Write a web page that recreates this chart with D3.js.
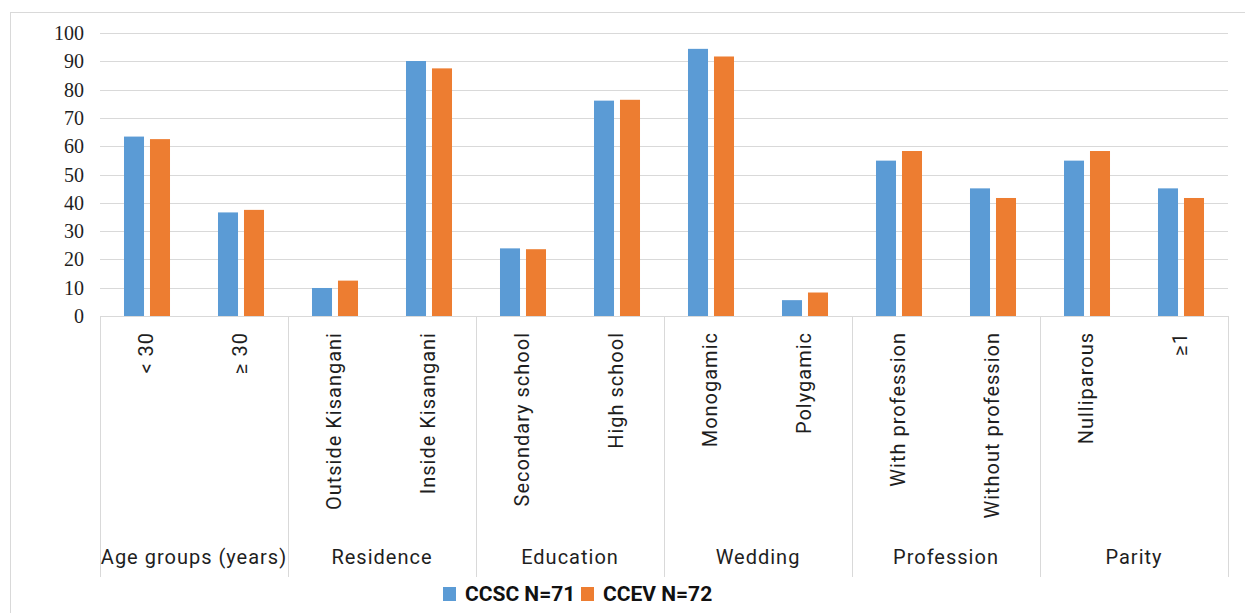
<!DOCTYPE html>
<html>
<head>
<meta charset="utf-8">
<script src="https://cdn.jsdelivr.net/npm/d3@7"></script>
<style>
  html, body { margin: 0; padding: 0; background: #fff; }
  svg { display: block; }
</style>
</head>
<body>
<svg id="chart" width="1245" height="613"></svg>
<script>
// Groups and their sub-categories (two per group)
const groups = ["Age groups (years)", "Residence", "Education", "Wedding", "Profession", "Parity"];
const categories = ["< 30", "\u2265 30", "Outside Kisangani", "Inside Kisangani",
  "Secondary school", "High school", "Monogamic", "Polygamic",
  "With profession", "Without profession", "Nulliparous", "\u22651"];
const seriesNames = ["CCSC N=71", "CCEV N=72"];
// Percentages per category
const ccsc = [63.4, 36.6, 9.9, 90.1, 23.9, 76.1, 94.4, 5.6, 54.9, 45.1, 54.9, 45.1];
const ccev = [62.5, 37.5, 12.5, 87.5, 23.6, 76.4, 91.7, 8.3, 58.3, 41.7, 58.3, 41.7];
const yTicks = [0, 10, 20, 30, 40, 50, 60, 70, 80, 90, 100];
const colors = ["#5B9BD5", "#ED7D31"];

const svg = d3.select("#chart");
const plotLeft = 100, plotRight = 1228, plotTop = 33, plotBase = 316, axisBottom = 577;

// Outer chart frame
svg.append("rect")
  .attr("x", 10.5).attr("y", 12.5)
  .attr("width", 1250).attr("height", 650)
  .attr("fill", "none").attr("stroke", "#d9d9d9").attr("stroke-width", 1);

const y = d3.scaleLinear().domain([0, 100]).range([plotBase, plotTop]);
const x0 = d3.scaleBand().domain(categories).range([plotLeft, plotRight]).padding(0);
const x1 = d3.scaleBand().domain(seriesNames).range([0, x0.bandwidth()])
  .paddingInner(0.23).paddingOuter(0.923);
const xg = d3.scaleBand().domain(groups).range([plotLeft, plotRight]).padding(0);

// Horizontal gridlines
svg.append("g").selectAll("line").data(yTicks.filter(d => d > 0)).join("line")
  .attr("x1", plotLeft).attr("x2", plotRight)
  .attr("y1", d => Math.round(y(d)) + 0.5).attr("y2", d => Math.round(y(d)) + 0.5)
  .attr("stroke", "#d9d9d9").attr("stroke-width", 1);

// Y tick labels
svg.append("g").selectAll("text").data(yTicks).join("text")
  .attr("x", 84).attr("y", d => y(d))
  .attr("dy", "0.35em")
  .attr("text-anchor", "end")
  .attr("font-family", "'Liberation Serif', 'Times New Roman', serif")
  .attr("font-size", 20)
  .attr("fill", "#1e1e1e")
  .text(d => d);

// Bars
const rows = categories.map((c, i) => ({ cat: c, vals: [ccsc[i], ccev[i]] }));
const barG = svg.append("g").selectAll("g").data(rows).join("g")
  .attr("transform", d => `translate(${x0(d.cat)},0)`);
barG.selectAll("rect").data(d => d.vals.map((v, k) => ({ s: seriesNames[k], v, k }))).join("rect")
  .attr("x", d => x1(d.s))
  .attr("width", x1.bandwidth())
  .attr("y", d => y(d.v))
  .attr("height", d => plotBase - y(d.v))
  .attr("fill", d => colors[d.k]);

// Category axis line and group separators
svg.append("line")
  .attr("x1", plotLeft).attr("x2", plotRight)
  .attr("y1", plotBase + 0.5).attr("y2", plotBase + 0.5)
  .attr("stroke", "#d9d9d9");
const seps = groups.map(g => xg(g)).concat([plotRight]);
svg.append("g").selectAll("line").data(seps).join("line")
  .attr("x1", d => Math.round(d) + 0.5).attr("x2", d => Math.round(d) + 0.5)
  .attr("y1", plotBase).attr("y2", axisBottom)
  .attr("stroke", "#d9d9d9");

const labelFont = "Roboto, 'Open Sans', sans-serif";

// Rotated category labels
svg.append("g").selectAll("text").data(categories).join("text")
  .attr("transform", d => `translate(${x0(d) + x0.bandwidth() / 2 + 6},332) rotate(-90)`)
  .attr("text-anchor", "end")
  .attr("font-family", labelFont)
  .attr("font-size", 20)
  .attr("letter-spacing", 1)
  .attr("fill", "#1e1e1e")
  .text(d => d);

// Group labels
svg.append("g").selectAll("text").data(groups).join("text")
  .attr("x", d => xg(d) + xg.bandwidth() / 2)
  .attr("y", 564)
  .attr("text-anchor", "middle")
  .attr("font-family", labelFont)
  .attr("font-size", 20)
  .attr("letter-spacing", 1)
  .attr("fill", "#1e1e1e")
  .text(d => d);

// Legend
const legend = svg.append("g").attr("font-family", labelFont)
  .attr("font-size", 21).attr("font-weight", "bold");
const legX = [443, 581];
seriesNames.forEach((s, k) => {
  legend.append("rect").attr("x", legX[k]).attr("y", 587).attr("width", 13).attr("height", 14)
    .attr("fill", colors[k]);
  legend.append("text").attr("x", legX[k] + 22).attr("y", 601)
    .attr("fill", "#111").text(s);
});
</script>
</body>
</html>
